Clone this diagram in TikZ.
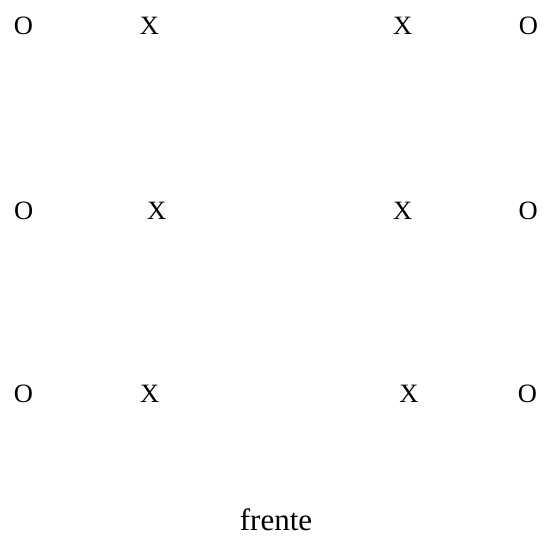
\documentclass[tikz,border=0pt]{standalone}
\usepackage{fontspec}
\setmainfont{Liberation Serif}
\usetikzlibrary{positioning}

\begin{document}
\begin{tikzpicture}[x=1pt,y=-1pt,every node/.style={inner sep=0pt}]

	\tikzstyle{seat}=[font=\fontsize{26.5}{30}\selectfont]
	\tikzstyle{front label}=[font=\fontsize{31}{36}\selectfont,anchor=base]

	\useasboundingbox (0,0) rectangle (553,536);

	% first row
	\node [seat] (o1l) at (23.5,26) {O};
	\node [seat] (x1l) at (149.5,26) {X};
	\node [seat] (x1r) at (402.7,26) {X};
	\node [seat] (o1r) at (528.5,26) {O};

	% second row
	\node [seat] (o2l) at (23.6,211) {O};
	\node [seat] (x2l) at (156.7,211) {X};
	\node [seat] (x2r) at (402.7,211) {X};
	\node [seat] (o2r) at (528.3,211) {O};

	% third row
	\node [seat] (o3l) at (23.5,394) {O};
	\node [seat] (x3l) at (149.7,394) {X};
	\node [seat] (x3r) at (409,394) {X};
	\node [seat] (o3r) at (527.5,394) {O};

	\node [front label] (front) at (276,530) {frente};

\end{tikzpicture}
\end{document}
